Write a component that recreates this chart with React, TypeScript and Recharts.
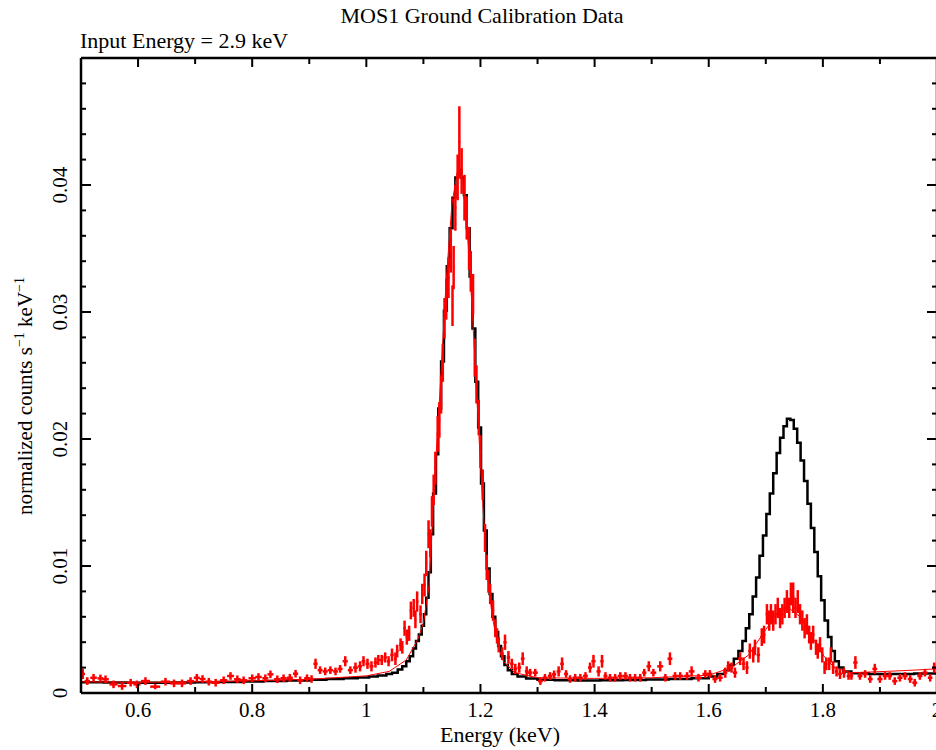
import React from 'react';
import { ComposedChart, Line, Scatter, ErrorBar, XAxis, YAxis } from 'recharts';

const FONT = '"Liberation Serif", "Times New Roman", Times, serif';

// axis ticks (every 0.1 keV / 0.002; majors every 0.2 keV / 0.01 carry labels)
const xTicks = [0.5, 0.6, 0.7, 0.8, 0.9, 1.0, 1.1, 1.2, 1.3, 1.4, 1.5, 1.6, 1.7, 1.8, 1.9, 2.0];
const yTicks = [
  0, 0.002, 0.004, 0.006, 0.008, 0.01, 0.012, 0.014, 0.016, 0.018, 0.02, 0.022, 0.024,
  0.026, 0.028, 0.03, 0.032, 0.034, 0.036, 0.038, 0.04, 0.042, 0.044, 0.046, 0.048, 0.05,
];

// black folded model, step histogram [energy keV, counts]
const blackModel: [number, number][] = [
  [0.5, 0.00085], [0.54, 0.00082], [0.58, 0.0008], [0.62, 0.0008], [0.66, 0.00082],
  [0.7, 0.00084], [0.74, 0.00087], [0.78, 0.0009], [0.82, 0.00094], [0.86, 0.00099],
  [0.9, 0.00105], [0.93, 0.0011], [0.96, 0.00116], [0.985, 0.00123], [1.005, 0.0013],
  [1.02, 0.00138], [1.035, 0.0015], [1.045, 0.0016], [1.055, 0.00185], [1.063, 0.0021],
  [1.07, 0.0025], [1.076, 0.0029], [1.082, 0.0035], [1.087, 0.0041], [1.092, 0.0046],
  [1.097, 0.0053], [1.101, 0.0062], [1.105, 0.0075], [1.109, 0.0095], [1.113, 0.0125],
  [1.117, 0.0157], [1.122, 0.0188], [1.126, 0.0224], [1.131, 0.0261], [1.136, 0.0301],
  [1.141, 0.0336], [1.146, 0.0366], [1.151, 0.039], [1.156, 0.0406], [1.161, 0.0412],
  [1.166, 0.0406], [1.171, 0.0392], [1.176, 0.0366], [1.181, 0.0328], [1.186, 0.0287],
  [1.191, 0.0245], [1.196, 0.0209], [1.201, 0.0165], [1.206, 0.0128], [1.211, 0.0098],
  [1.216, 0.0078], [1.221, 0.006], [1.226, 0.0048], [1.231, 0.0037], [1.236, 0.0029],
  [1.242, 0.0022], [1.248, 0.0018], [1.255, 0.0015], [1.265, 0.0013], [1.28, 0.00115],
  [1.3, 0.00105], [1.33, 0.001], [1.37, 0.00098], [1.41, 0.001], [1.45, 0.00102],
  [1.49, 0.00106], [1.53, 0.0011], [1.57, 0.00116], [1.6, 0.0013], [1.615, 0.0015],
  [1.628, 0.0018], [1.636, 0.0022], [1.644, 0.0027], [1.652, 0.0033], [1.659, 0.0041],
  [1.665, 0.0051], [1.671, 0.0062], [1.677, 0.0076], [1.683, 0.0091], [1.689, 0.0108],
  [1.695, 0.0124], [1.701, 0.0141], [1.707, 0.0157], [1.713, 0.0173], [1.719, 0.0189],
  [1.725, 0.0201], [1.731, 0.021], [1.737, 0.0216], [1.743, 0.0215], [1.749, 0.0208],
  [1.755, 0.0197], [1.761, 0.0183], [1.767, 0.0167], [1.773, 0.0149], [1.779, 0.013],
  [1.785, 0.0111], [1.791, 0.0092], [1.797, 0.0073], [1.803, 0.0057], [1.809, 0.0044],
  [1.815, 0.0033], [1.821, 0.0025], [1.828, 0.002], [1.836, 0.0017], [1.85, 0.00155],
  [1.88, 0.0015], [1.92, 0.0015], [1.96, 0.00153], [2.0, 0.00156],
];

// thin red model for the measured spectrum
const redModel: [number, number][] = [
  [0.5, 0.00088], [0.6, 0.00084], [0.7, 0.00088], [0.8, 0.00096], [0.9, 0.00108],
  [1.0, 0.00135], [1.04, 0.0017], [1.07, 0.0026], [1.09, 0.0042], [1.1, 0.0055],
  [1.11, 0.0085], [1.12, 0.017], [1.13, 0.0245], [1.14, 0.0325], [1.15, 0.0385],
  [1.16, 0.0412], [1.17, 0.04], [1.18, 0.0345], [1.19, 0.0265], [1.2, 0.018],
  [1.21, 0.0105], [1.22, 0.0062], [1.23, 0.0038], [1.24, 0.0025], [1.26, 0.0016],
  [1.3, 0.0012], [1.4, 0.00115], [1.5, 0.0012], [1.6, 0.0014], [1.64, 0.002],
  [1.67, 0.003], [1.7, 0.005], [1.72, 0.0063], [1.74, 0.0067], [1.76, 0.006],
  [1.78, 0.0045], [1.8, 0.003], [1.82, 0.002], [1.85, 0.0016], [1.9, 0.00168],
  [1.95, 0.00178], [2.0, 0.0019],
];

// red data [energy keV, counts, 1-sigma error]
const redLowBand: [number, number, number][] = [
  [0.503, 0.0015, 0.0004], [0.511, 0.00094, 0.0003], [0.522, 0.0012, 0.0003],
  [0.534, 0.00115, 0.0003], [0.543, 0.00108, 0.0003], [0.557, 0.00068, 0.0003],
  [0.572, 0.00055, 0.0003], [0.587, 0.00081, 0.0003], [0.598, 0.00068, 0.0003],
  [0.613, 0.00094, 0.0003], [0.63, 0.0005, 0.0002], [0.648, 0.00089, 0.0003],
  [0.663, 0.00076, 0.0003], [0.677, 0.00076, 0.0003], [0.692, 0.00094, 0.0003],
  [0.703, 0.0012, 0.0003], [0.713, 0.0011, 0.0003], [0.724, 0.00089, 0.0003],
  [0.736, 0.00081, 0.0003], [0.75, 0.001, 0.0003], [0.762, 0.00134, 0.0003],
  [0.774, 0.00108, 0.0003], [0.785, 0.001, 0.0003], [0.8, 0.00116, 0.0003],
  [0.811, 0.00126, 0.0003], [0.823, 0.00116, 0.0003], [0.832, 0.00147, 0.0003],
  [0.844, 0.00108, 0.0003], [0.855, 0.00116, 0.0003], [0.866, 0.0012, 0.0003],
  [0.876, 0.00152, 0.0003], [0.884, 0.001, 0.0003], [0.896, 0.00116, 0.0003],
  [0.904, 0.0011, 0.0003],
];

const redFirstLine: [number, number, number][] = [
  [0.911, 0.0023, 0.0004], [0.919, 0.0018, 0.0003], [0.928, 0.0017, 0.0003],
  [0.937, 0.0018, 0.0003], [0.946, 0.0017, 0.0003], [0.954, 0.0019, 0.0003],
  [0.963, 0.0025, 0.0004], [0.972, 0.0018, 0.0003], [0.981, 0.002, 0.0004],
  [0.989, 0.0021, 0.0004], [0.995, 0.0025, 0.0004], [1.002, 0.0023, 0.0004],
  [1.009, 0.0021, 0.0004], [1.016, 0.0024, 0.0004], [1.021, 0.0026, 0.0004],
  [1.027, 0.0026, 0.0004], [1.033, 0.0028, 0.0004], [1.039, 0.0025, 0.0004],
  [1.045, 0.003, 0.0005], [1.051, 0.0027, 0.0005], [1.054, 0.0033, 0.0005],
  [1.06, 0.0038, 0.0005], [1.063, 0.0036, 0.0005], [1.067, 0.0051, 0.0006],
  [1.071, 0.0044, 0.0006], [1.075, 0.0047, 0.0006], [1.078, 0.0065, 0.0007],
  [1.083, 0.0067, 0.0007], [1.086, 0.0058, 0.0007], [1.089, 0.0072, 0.0008],
  [1.095, 0.0062, 0.0007], [1.098, 0.0078, 0.0008], [1.102, 0.0085, 0.0009],
  [1.105, 0.0102, 0.001], [1.109, 0.0125, 0.0011], [1.112, 0.0118, 0.0011],
  [1.115, 0.0143, 0.0012], [1.118, 0.016, 0.0012], [1.121, 0.0177, 0.0013],
  [1.125, 0.0204, 0.0014], [1.128, 0.0215, 0.0014], [1.131, 0.0235, 0.0015],
  [1.134, 0.026, 0.0015], [1.137, 0.0295, 0.0016], [1.14, 0.031, 0.0016],
  [1.144, 0.0327, 0.0016], [1.148, 0.0348, 0.0017], [1.151, 0.0305, 0.0016],
  [1.153, 0.0335, 0.0017], [1.156, 0.0382, 0.0018], [1.16, 0.0406, 0.0018],
  [1.163, 0.0434, 0.0028], [1.167, 0.0411, 0.0018], [1.172, 0.039, 0.0018],
  [1.176, 0.0374, 0.0017], [1.18, 0.035, 0.0017], [1.183, 0.0332, 0.0016],
  [1.187, 0.0314, 0.0016], [1.19, 0.0264, 0.0015], [1.193, 0.0243, 0.0015],
  [1.197, 0.0217, 0.0014], [1.2, 0.019, 0.0013], [1.204, 0.0164, 0.0012],
  [1.208, 0.0122, 0.0011], [1.211, 0.0099, 0.001], [1.214, 0.0088, 0.0009],
  [1.217, 0.0078, 0.0008], [1.222, 0.0065, 0.0008], [1.226, 0.0051, 0.0007],
  [1.229, 0.0045, 0.0006], [1.232, 0.0038, 0.0006], [1.238, 0.0031, 0.0005],
  [1.243, 0.004, 0.0006], [1.249, 0.0028, 0.0005], [1.255, 0.0023, 0.0004],
  [1.261, 0.0019, 0.0004], [1.268, 0.002, 0.0004], [1.274, 0.0027, 0.0005],
  [1.281, 0.0017, 0.0004], [1.287, 0.0016, 0.0003], [1.296, 0.0016, 0.0003],
];

const redMidBand: [number, number, number][] = [
  [1.305, 0.00094, 0.0003], [1.313, 0.0012, 0.0003], [1.322, 0.00134, 0.0003],
  [1.329, 0.00147, 0.0003], [1.337, 0.0017, 0.0004], [1.343, 0.0023, 0.0005],
  [1.35, 0.0015, 0.0003], [1.357, 0.0011, 0.0003], [1.366, 0.0012, 0.0003],
  [1.375, 0.0012, 0.0003], [1.384, 0.00134, 0.0003], [1.392, 0.002, 0.0004],
  [1.398, 0.0025, 0.0005], [1.407, 0.0017, 0.0004], [1.413, 0.0025, 0.0005],
  [1.419, 0.00134, 0.0003], [1.427, 0.0012, 0.0003], [1.436, 0.0012, 0.0003],
  [1.445, 0.00134, 0.0003], [1.454, 0.00134, 0.0003], [1.462, 0.0012, 0.0003],
  [1.471, 0.0012, 0.0003], [1.48, 0.0012, 0.0003], [1.487, 0.0016, 0.0003],
  [1.495, 0.0021, 0.0004], [1.503, 0.0016, 0.0003], [1.515, 0.0021, 0.0004],
  [1.524, 0.0012, 0.0003], [1.532, 0.0027, 0.0005], [1.541, 0.00134, 0.0003],
  [1.55, 0.00134, 0.0003], [1.562, 0.00134, 0.0003], [1.57, 0.0017, 0.0004],
  [1.582, 0.0012, 0.0003], [1.594, 0.0015, 0.0003], [1.602, 0.0015, 0.0003],
  [1.611, 0.0011, 0.0003], [1.62, 0.0012, 0.0003], [1.629, 0.0016, 0.0004],
  [1.634, 0.0021, 0.0004], [1.64, 0.002, 0.0004], [1.646, 0.0016, 0.0004],
];

const redSecondLine: [number, number, number][] = [
  [1.655, 0.0027, 0.0005], [1.661, 0.0023, 0.0005], [1.667, 0.002, 0.0005],
  [1.672, 0.0033, 0.0006], [1.678, 0.003, 0.0006], [1.681, 0.0036, 0.0006],
  [1.687, 0.003, 0.0006], [1.693, 0.0044, 0.0007], [1.697, 0.0046, 0.0007],
  [1.702, 0.0062, 0.0008], [1.706, 0.0057, 0.0008], [1.709, 0.0062, 0.0008],
  [1.713, 0.0057, 0.0008], [1.717, 0.0062, 0.0008], [1.721, 0.0067, 0.0008],
  [1.725, 0.0059, 0.0008], [1.729, 0.0062, 0.0008], [1.733, 0.0067, 0.0008],
  [1.737, 0.0072, 0.0009], [1.741, 0.0067, 0.0008], [1.744, 0.0078, 0.0009],
  [1.748, 0.0075, 0.0012], [1.752, 0.0067, 0.0008], [1.756, 0.0072, 0.0009],
  [1.76, 0.0062, 0.0008], [1.764, 0.0057, 0.0008], [1.768, 0.0051, 0.0008],
  [1.772, 0.0054, 0.0008], [1.776, 0.0046, 0.0007], [1.779, 0.0041, 0.0007],
  [1.783, 0.0046, 0.0007], [1.788, 0.0036, 0.0006], [1.791, 0.0033, 0.0006],
  [1.795, 0.0038, 0.0006], [1.799, 0.003, 0.0006], [1.803, 0.002, 0.0005],
  [1.806, 0.0023, 0.0005], [1.811, 0.0023, 0.0005], [1.814, 0.003, 0.0006],
  [1.818, 0.002, 0.0005], [1.824, 0.0017, 0.0004], [1.83, 0.0015, 0.0004],
  [1.837, 0.0016, 0.0004], [1.845, 0.00134, 0.0003],
];

const redHighBand: [number, number, number][] = [
  [1.85, 0.00134, 0.0003], [1.857, 0.0024, 0.0005], [1.865, 0.00134, 0.0003],
  [1.874, 0.0015, 0.0003], [1.883, 0.0011, 0.0003], [1.891, 0.0019, 0.0004],
  [1.9, 0.0011, 0.0003], [1.909, 0.00134, 0.0003], [1.917, 0.00134, 0.0003],
  [1.926, 0.00094, 0.0003], [1.935, 0.0012, 0.0003], [1.944, 0.00134, 0.0003],
  [1.953, 0.0011, 0.0003], [1.961, 0.00081, 0.0003], [1.97, 0.00134, 0.0003],
  [1.979, 0.0016, 0.0003], [1.988, 0.0012, 0.0003], [1.995, 0.002, 0.0004],
];

const blackData = blackModel.map(([e, v]) => ({ e, v }));
const redModelData = redModel.map(([e, v]) => ({ e, v }));

// horizontal bars span each bin: half the distance between neighbouring bin centres
const redRows = [...redLowBand, ...redFirstLine, ...redMidBand, ...redSecondLine, ...redHighBand];
const redData = redRows.map(([e, v, dv], i) => {
  const prev = i > 0 ? redRows[i - 1][0] : null;
  const next = i < redRows.length - 1 ? redRows[i + 1][0] : null;
  const lo = prev ?? e - ((next as number) - e);
  const hi = next ?? e + (e - (prev as number));
  return { e, v, ex: (hi - lo) / 4, ey: dv };
});

const isMajorX = (v: number) => Math.round(v * 10) % 2 === 0;
const isMajorY = (v: number) => Math.round(v * 1000) % 10 === 0;
const fmtX = (v: number) => String(Number(v.toFixed(1)));

// inward tick marks drawn as small rects at the axis position recharts hands us
const BottomTick = (props: any) => {
  const { x, y, payload } = props;
  const v = payload.value as number;
  const major = isMajorX(v);
  const len = major ? 9 : 6;
  return (
    <g>
      <rect x={x - 1} y={y - len} width={2} height={len} fill="#000" />
      {major && (
        <text x={x} y={y + 24} textAnchor="middle" fontSize={21} fontFamily={FONT} fill="#000">
          {fmtX(v)}
        </text>
      )}
    </g>
  );
};

const TopTick = (props: any) => {
  const { x, y, payload } = props;
  const len = isMajorX(payload.value) ? 9 : 6;
  return <rect x={x - 1} y={y} width={2} height={len} fill="#000" />;
};

const LeftTick = (props: any) => {
  const { x, y, payload } = props;
  const v = payload.value as number;
  const major = isMajorY(v);
  const len = major ? 10 : 5;
  const tx = 67;
  return (
    <g>
      <rect x={x} y={y - 1} width={len} height={2} fill="#000" />
      {major && v < 0.045 && (
        <text x={tx} y={y} transform={`rotate(-90 ${tx} ${y})`} textAnchor="middle" fontSize={21} fontFamily={FONT} fill="#000">
          {v === 0 ? '0' : v.toFixed(2)}
        </text>
      )}
    </g>
  );
};

const RightTick = (props: any) => {
  const { x, y, payload } = props;
  const len = isMajorY(payload.value) ? 10 : 5;
  return <rect x={x - len} y={y - 1} width={len} height={2} fill="#000" />;
};

const axisLine = { stroke: '#000', strokeWidth: 2.5 };
const xCommon = {
  dataKey: 'e',
  type: 'number' as const,
  domain: [0.5, 2] as [number, number],
  ticks: xTicks,
  interval: 0 as const,
  allowDataOverflow: true,
  tickSize: 0,
  tickMargin: 0,
  tickLine: false,
  stroke: '#000',
  axisLine,
};
const yCommon = {
  dataKey: 'v',
  type: 'number' as const,
  domain: [0, 0.05] as [number, number],
  ticks: yTicks,
  interval: 0 as const,
  allowDataOverflow: true,
  tickSize: 0,
  tickMargin: 0,
  tickLine: false,
  stroke: '#000',
  axisLine,
};

export default function App() {
  return (
    <div style={{ position: 'absolute', left: 0, top: 0, width: 936, height: 750, overflow: 'hidden', background: '#fff' }}>
      <ComposedChart width={940} height={750} margin={{ top: 57, right: 2, bottom: 0, left: 0 }}>
        <XAxis {...xCommon} xAxisId="b" height={57} tick={(p: any) => <BottomTick {...p} />} />
        <XAxis {...xCommon} xAxisId="t" orientation="top" height={1} tick={(p: any) => <TopTick {...p} />} />
        <YAxis {...yCommon} yAxisId="l" width={81} tick={(p: any) => <LeftTick {...p} />} />
        <YAxis {...yCommon} yAxisId="r" orientation="right" width={1} tick={(p: any) => <RightTick {...p} />} />

        <Line
          xAxisId="b"
          yAxisId="l"
          data={blackData}
          dataKey="v"
          type="stepAfter"
          stroke="#000"
          strokeWidth={2.5}
          dot={false}
          isAnimationActive={false}
        />
        <Scatter xAxisId="b" yAxisId="l" data={redData} dataKey="v" fill="#ff0000" shape={() => <g />} isAnimationActive={false}>
          <ErrorBar dataKey="ex" direction="x" width={0} stroke="#ff0000" strokeWidth={2.5} isAnimationActive={false} />
          <ErrorBar dataKey="ey" direction="y" width={0} stroke="#ff0000" strokeWidth={2.5} isAnimationActive={false} />
        </Scatter>
        <Line
          xAxisId="t"
          yAxisId="r"
          data={redModelData}
          dataKey="v"
          type="linear"
          stroke="#ff0000"
          strokeWidth={1}
          dot={false}
          isAnimationActive={false}
        />
      </ComposedChart>
      <svg
        width={936}
        height={750}
        style={{ position: 'absolute', left: 0, top: 0, pointerEvents: 'none' }}
        fontFamily={FONT}
        fill="#000"
      >
        <text x={482} y={23} textAnchor="middle" fontSize={22}>MOS1 Ground Calibration Data</text>
        <text x={80} y={48} textAnchor="start" fontSize={22}>Input Energy = 2.9 keV</text>
        <text x={500} y={742} textAnchor="middle" fontSize={22}>Energy (keV)</text>
        <text x={32} y={396} transform="rotate(-90 32 396)" textAnchor="middle" fontSize={21}>
          normalized counts s<tspan fontSize={14} dy={-8}>−1</tspan>
          <tspan dy={8}> keV</tspan>
          <tspan fontSize={14} dy={-8}>−1</tspan>
        </text>
      </svg>
    </div>
  );
}
